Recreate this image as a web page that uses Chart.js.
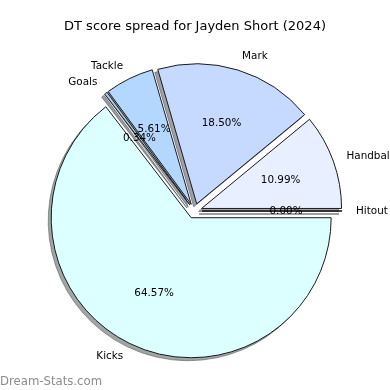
<!DOCTYPE html>
<html>
<head>
<meta charset="utf-8">
<script src="https://cdn.jsdelivr.net/npm/chart.js@4"></script>
<style>
  html, body { margin: 0; padding: 0; background: #fff; }
  #wrap { width: 390px; height: 390px; }
</style>
</head>
<body>
<div id="wrap"><canvas id="pie" width="390" height="390"></canvas></div>
<script>
// data (clockwise from 3 o'clock)
const categories = ['Kicks', 'Goals', 'Tackle', 'Mark', 'Handball', 'Hitout'];
const percentages = [64.57, 0.34, 5.61, 18.50, 10.99, 0.00];
const chartTitle = 'DT score spread for Jayden Short (2024)';
const watermark = 'Dream-Stats.com';

// look
const sliceColors = ['#dcffff', '#a9c9e6', '#b4d7ff', '#c6d9ff', '#e8f0ff', '#d0d0d0'];
const explodePx = 7.5;
const shadowDx = -3, shadowDy = 3;
const FONT = "'DejaVu Sans', sans-serif";

function shadowOf(hex) {
    const n = parseInt(hex.slice(1), 16);
    const r = Math.round(((n >> 16) & 255) * 0.3);
    const g = Math.round(((n >> 8) & 255) * 0.3);
    const b = Math.round((n & 255) * 0.3);
    return `rgba(${r},${g},${b},0.5)`;
}

function midAngle(el) {
    return (el.startAngle + el.endAngle) / 2;
}

function zeroWedge(ctx, el) {
    const a = el.startAngle;
    ctx.beginPath();
    ctx.moveTo(el.x, el.y);
    ctx.lineTo(el.x + Math.cos(a) * el.outerRadius, el.y + Math.sin(a) * el.outerRadius);
    ctx.stroke();
}

// explode, shadows, labels
const pieExtras = {
    id: 'pieExtras',
    beforeDatasetDraw(chart, args) {
        const ctx = chart.ctx;
        const arcs = args.meta.data;
        arcs.forEach(el => {
            const a = midAngle(el);
            el._home = { x: el.x, y: el.y };
            el.x += Math.cos(a) * explodePx;
            el.y += Math.sin(a) * explodePx;
        });
        // schatten zuerst, unter allen Stücken
        arcs.forEach((el, i) => {
            ctx.save();
            ctx.shadowColor = shadowOf(sliceColors[i]);
            ctx.shadowBlur = 0;
            ctx.shadowOffsetX = 10000 + shadowDx;
            ctx.shadowOffsetY = shadowDy;
            ctx.translate(-10000, 0);
            if (el.circumference > 0) {
                el.draw(ctx);
            } else {
                ctx.lineWidth = 2;
                ctx.strokeStyle = '#000';
                zeroWedge(ctx, el);
            }
            ctx.restore();
        });
    },
    afterDatasetDraw(chart, args) {
        const ctx = chart.ctx;
        const arcs = args.meta.data;
        arcs.forEach(el => {
            if (el.circumference === 0) {
                ctx.save();
                ctx.lineWidth = 1.6;
                ctx.strokeStyle = '#111';
                zeroWedge(ctx, el);
                ctx.restore();
            }
            el.x = el._home.x;
            el.y = el._home.y;
        });
    },
    afterDraw(chart) {
        const ctx = chart.ctx;
        const arcs = chart.getDatasetMeta(0).data;
        ctx.save();
        ctx.fillStyle = '#000';
        ctx.textBaseline = 'middle';
        ctx.font = '10.4px ' + FONT;
        arcs.forEach((el, i) => {
            const a = midAngle(el);
            const cx = el.x + Math.cos(a) * explodePx;
            const cy = el.y + Math.sin(a) * explodePx;
            const R = el.outerRadius;
            ctx.textAlign = Math.cos(a) > 0 ? 'left' : 'right';
            ctx.fillText(categories[i], cx + Math.cos(a) * R * 1.1, cy + Math.sin(a) * R * 1.1);
            ctx.textAlign = 'center';
            ctx.fillText(percentages[i].toFixed(2) + '%', cx + Math.cos(a) * R * 0.6, cy + Math.sin(a) * R * 0.6);
        });
        // Titel
        ctx.textAlign = 'center';
        ctx.textBaseline = 'alphabetic';
        ctx.font = '13px ' + FONT;
        ctx.fillText(chartTitle, 195, 29.5);
        // Wasserzeichen
        ctx.textAlign = 'left';
        ctx.fillStyle = '#8c8c8c';
        ctx.font = '11.7px ' + FONT;
        ctx.fillText(watermark, 0, 385);
        ctx.restore();
    }
};

new Chart(document.getElementById('pie'), {
    type: 'pie',
    data: {
        labels: categories,
        datasets: [{
            data: percentages,
            backgroundColor: sliceColors,
            borderColor: '#1a1a1a',
            borderWidth: 1,
            borderJoinStyle: 'miter',
            clip: false
        }]
    },
    options: {
        responsive: false,
        animation: false,
        rotation: 90,
        radius: 140,
        layout: { padding: { top: 32, right: 1, bottom: 0, left: 0 } },
        plugins: {
            legend: { display: false },
            title: { display: false },
            tooltip: { enabled: false }
        },
        events: []
    },
    plugins: [pieExtras]
});
</script>
</body>
</html>
